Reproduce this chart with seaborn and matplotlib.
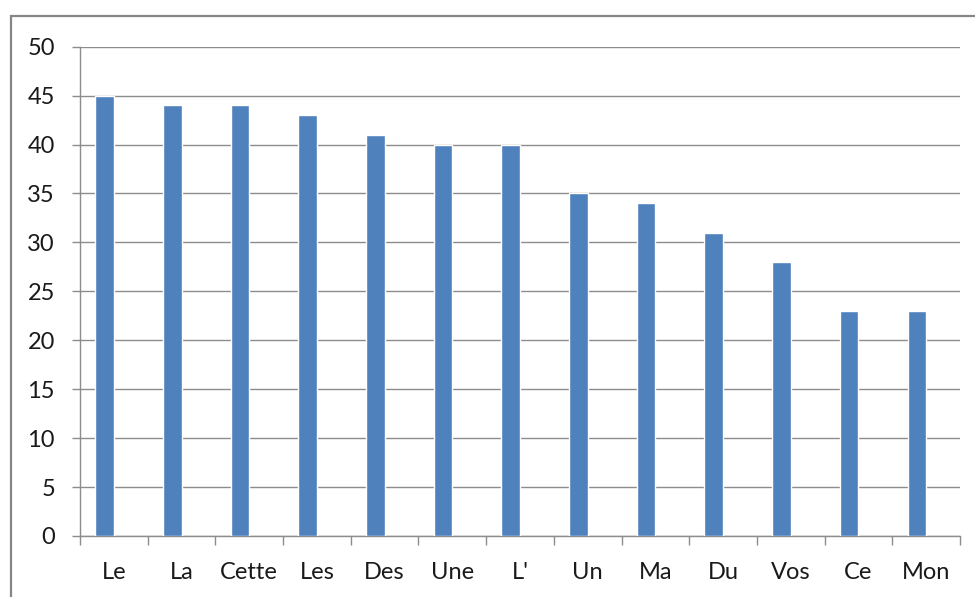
import numpy as np
import pandas as pd
import seaborn as sns
import matplotlib.pyplot as plt
from matplotlib.patches import Rectangle
from matplotlib.ticker import FixedLocator

# Data
categories = ['Le', 'La', 'Cette', 'Les', 'Des', 'Une', "L'", 'Un', 'Ma', 'Du', 'Vos', 'Ce', 'Mon']
counts = [45, 44, 44, 43, 41, 40, 40, 35, 34, 31, 28, 23, 23]
y_ticks = [0, 5, 10, 15, 20, 25, 30, 35, 40, 45, 50]

# Excel-style clustered column: one real series plus an empty one, so bars sit left of centre
df = pd.DataFrame({'word': categories * 2,
                   'count': counts + [np.nan] * len(categories),
                   'series': ['s1'] * len(categories) + ['s2'] * len(categories)})

sns.set_style('white')
plt.rcParams['font.family'] = ['Lato', 'DejaVu Sans']

fig = plt.figure(figsize=(9.75, 5.97), dpi=100)
ax = fig.add_axes([80 / 975, 1 - 536 / 597, 880 / 975, (536 - 46.7) / 597])

sns.barplot(data=df, x='word', y='count', hue='series', hue_order=['s1', 's2'],
            palette={'s1': '#4F81BD', 's2': '#C0504D'}, width=0.55, dodge=True,
            saturation=1, ax=ax, zorder=3, legend=False)

grid_col = '#8C8C8C'
ax.set_ylim(0, 50)
ax.set_xlim(-0.5, len(categories) - 0.5)
ax.set_yticks(y_ticks)
ax.set_yticklabels([str(v) for v in y_ticks])
ax.yaxis.grid(True, color=grid_col, linewidth=1, zorder=0)
ax.set_axisbelow(True)

for side in ['top', 'right']:
    ax.spines[side].set_visible(False)
for side in ['left', 'bottom']:
    ax.spines[side].set_color(grid_col)
    ax.spines[side].set_linewidth(1)

# category separator ticks
ax.xaxis.set_minor_locator(FixedLocator(np.arange(-0.5, len(categories), 1.0)))
ax.tick_params(axis='x', which='minor', length=6.5, color=grid_col, width=1, bottom=True)
ax.tick_params(axis='x', which='major', length=0, pad=19, labelsize=17, labelcolor='#1a1a1a')
ax.tick_params(axis='y', which='major', length=6, color=grid_col, width=1, pad=12,
               labelsize=17, labelcolor='#1a1a1a', left=True)

ax.set_xlabel('')
ax.set_ylabel('')

# chart outer border
fig.patches.append(Rectangle((10.5 / 975, -0.1), 1.2, 1 - 15.5 / 597 + 0.1,
                             transform=fig.transFigure, fill=False,
                             edgecolor='#868686', linewidth=1.6, clip_on=False))

fig.savefig('out.png', dpi=100)
